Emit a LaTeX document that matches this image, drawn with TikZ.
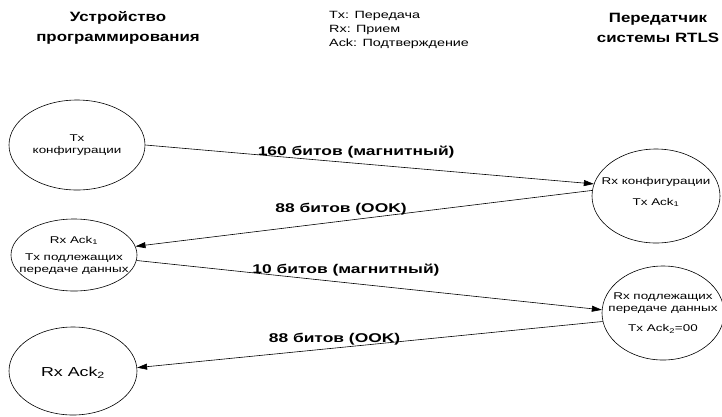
\documentclass[tikz,border=0pt]{standalone}
\usepackage{fontspec}
\setmainfont{Liberation Sans}[FakeStretch=1.37]
\newfontfamily\hdrfont{Liberation Sans}[FakeStretch=1.25]
\usetikzlibrary{shapes.geometric,arrows.meta}
\tikzset{
  ell/.style={draw, ellipse, inner sep=0pt, line width=0.6pt},
  etext/.style={align=center, font=\fontsize{9.8}{12}\selectfont, inner sep=0pt},
  hdr/.style={align=center, font=\hdrfont\fontsize{13.5}{20}\selectfont\bfseries, inner sep=0pt},
  legend/.style={align=left, font=\fontsize{10.5}{14}\selectfont, inner sep=0pt, anchor=north west},
  lbl/.style={font=\fontsize{12.7}{14}\selectfont\bfseries, inner sep=0pt},
  conn/.style={line width=0.6pt, -{Triangle[length=10pt,width=6pt]}},
}
\begin{document}
\begin{tikzpicture}[x=1pt,y=-1pt]
\useasboundingbox (0,0) rectangle (722,416);
% headers
\node[hdr] (h1) at (118,28) {Устройство\\программирования};
\node[hdr] (h2) at (658,28) {Передатчик\\системы RTLS};
\node[legend] (lg) at (329,11.5) {Tx: Передача\\Rx: Прием\\Ack: Подтверждение};
% ellipses
\node[ell, minimum width=136pt, minimum height=90pt,
  label={[etext]center:Tx\\конфигурации}] (e1) at (77,145) {};
\node[ell, minimum width=126pt, minimum height=72pt,
  label={[etext]center:Rx Ack\textsubscript{1}\\[5pt]Tx подлежащих\\передаче данных}] (e2) at (74,255) {};
\node[ell, minimum width=128pt, minimum height=88pt,
  label={[etext,font=\fontsize{13}{15}\selectfont,yshift=-2pt]center:Rx Ack\textsubscript{2}}] (e3) at (73,371) {};
\node[ell, minimum width=128pt, minimum height=94pt,
  label={[etext,yshift=4pt]center:Rx конфигурации\\[9pt]Tx Ack\textsubscript{1}}] (e4) at (656,196) {};
\node[ell, minimum width=122pt, minimum height=94pt,
  label={[etext]center:Rx подлежащих\\передаче данных\\[8pt]Tx Ack\textsubscript{2}=00}] (e5) at (663,313) {};
% connectors
\draw[conn] (e1.east) -- node[lbl, pos=0.47, yshift=11pt] (l1) {160 битов (магнитный)} (e4.169);
\draw[conn] (e4.175) -- node[lbl, pos=0.55, yshift=12pt] (l2) {88 битов (OOK)} (e2.8);
\draw[conn] (e2.-5) -- node[lbl, pos=0.45, yshift=13pt] (l3) {10 битов (магнитный)} (e5.177);
\draw[conn] (e5.188) -- node[lbl, pos=0.576, yshift=9pt] (l4) {88 битов (OOK)} (e3.3);
\end{tikzpicture}
\end{document}
